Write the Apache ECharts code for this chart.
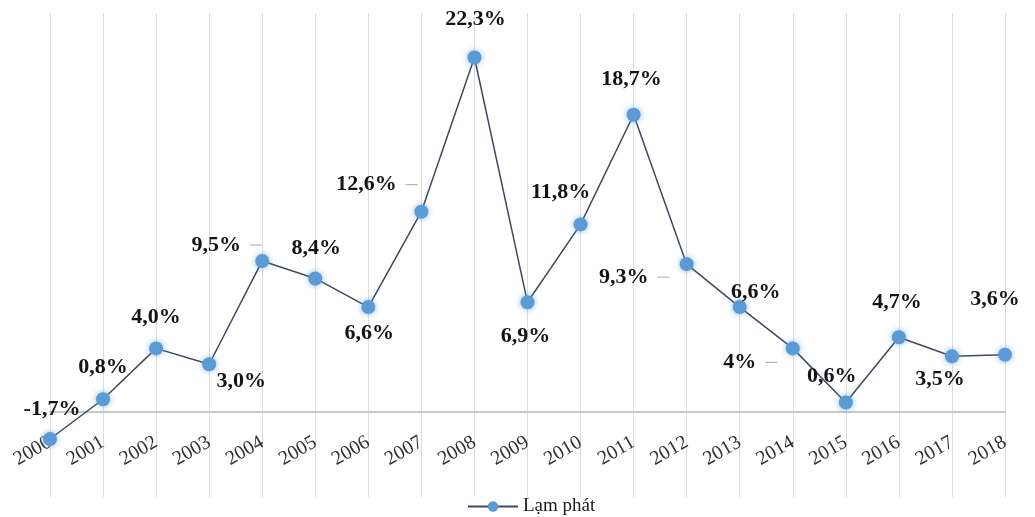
<!DOCTYPE html>
<html>
<head>
<meta charset="utf-8">
<script src="https://cdn.jsdelivr.net/npm/echarts@6/dist/echarts.min.js"></script>
<style>html,body{margin:0;padding:0;background:#fff}#c{width:1035px;height:517px}</style>
</head>
<body>
<div id="c"></div>
<script>
const years = ['2000','2001','2002','2003','2004','2005','2006','2007','2008','2009','2010','2011','2012','2013','2014','2015','2016','2017','2018'];
const inflation = [-1.7, 0.8, 4.0, 3.0, 9.5, 8.4, 6.6, 12.6, 22.3, 6.9, 11.8, 18.7, 9.3, 6.6, 4, 0.6, 4.7, 3.5, 3.6];
const labelTexts = ['-1,7%','0,8%','4,0%','3,0%','9,5%','8,4%','6,6%','12,6%','22,3%','6,9%','11,8%','18,7%','9,3%','6,6%','4%','0,6%','4,7%','3,5%','3,6%'];
const seriesName = 'Lạm phát';

// label placement (offset of label text centre from point, pixels)
const labelOffsets = [[2,-30],[0,-32],[0,-31],[32,17],[-46,-16],[1,-30],[1,26],[-55,-27],[1,-38],[-2,34],[-20,-32],[-2,-35],[-63,13],[16,-15],[-53,14],[-14,-26],[-2,-35],[-12,23],[-10,-55]];
const leader = [4,7,12,14];
const GAP = 9, TICK = 12;

const chart = echarts.init(document.getElementById('c'));
const font = {fontFamily:'Liberation Serif', fontWeight:'bold', fontSize:22, color:'#141414'};
const data = inflation.map((v,i)=>{
  const hasLeader = leader.indexOf(i) >= 0;
  return {
    value: v,
    label: {show:true, formatter: hasLeader ? ('{t|' + labelTexts[i] + '}{s|}{l|}') : labelTexts[i]}
  };
});
chart.setOption({
  animation:false,
  grid:{left:50, right:30, top:13, bottom:20},
  legend:{
    top:492, left:462, itemWidth:50, itemHeight:13, itemGap:4,
    textStyle:{fontFamily:'Liberation Serif', fontSize:19, color:'#1a1a1a'},
    data:[seriesName]
  },
  xAxis:{
    type:'category', data:years, boundaryGap:false, offset:-85,
    axisLine:{onZero:false, lineStyle:{color:'#c8c8c8', width:2}},
    axisTick:{show:false},
    axisLabel:{rotate:30, margin:29, fontFamily:'Liberation Serif', fontSize:20, color:'#303030', interval:0},
    splitLine:{show:true, lineStyle:{color:'#dcdcdc', width:1}}
  },
  yAxis:{
    type:'value', min:-5.35, max:25.1, show:true,
    axisLine:{show:false}, axisTick:{show:false}, axisLabel:{show:false}, splitLine:{show:false}
  },
  series:[{
    name:seriesName, type:'line', data:data,
    symbol:'circle', symbolSize:14,
    lineStyle:{color:'#3e4a5c', width:1.5},
    itemStyle:{color:'#5b9bd5', shadowBlur:6, shadowColor:'rgba(91,155,213,0.7)'},
    label:Object.assign({show:true, position:'inside',
      rich:{
        t:Object.assign({}, font),
        s:{width:GAP, height:1},
        l:{width:TICK, height:1, backgroundColor:'#a6a6a6'}
      }
    }, font),
    labelLayout: function(p){
      const o = labelOffsets[p.dataIndex];
      const extra = leader.indexOf(p.dataIndex) >= 0 ? (GAP + TICK) / 2 : 0;
      return {dx:o[0] + extra, dy:o[1]};
    }
  }]
});
</script>
</body>
</html>
